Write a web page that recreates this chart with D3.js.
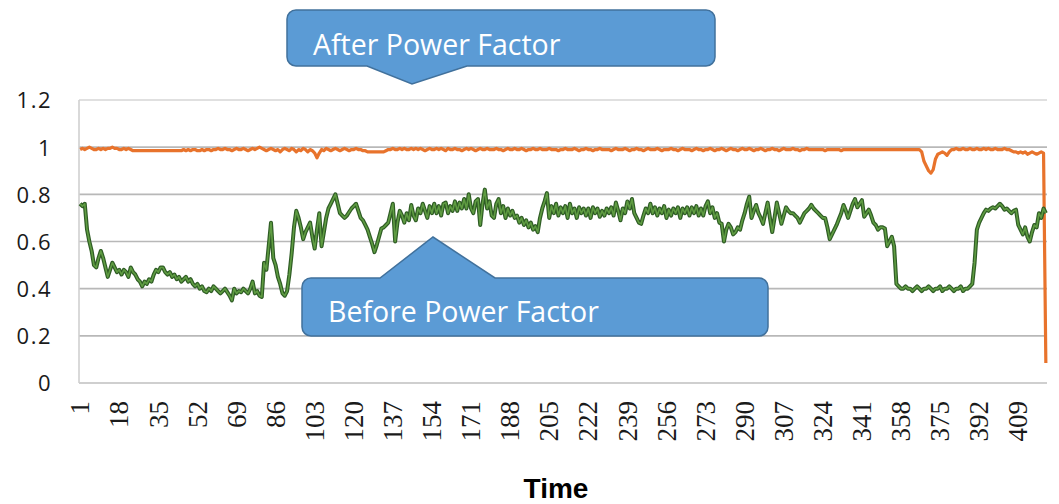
<!DOCTYPE html>
<html>
<head>
<meta charset="utf-8">
<script src="https://cdn.jsdelivr.net/npm/d3@7/dist/d3.min.js"></script>
<style>
  html, body { margin: 0; padding: 0; background: #fff; }
  svg { display: block; }
</style>
</head>
<body>
<svg id="chart" width="1059" height="504"></svg>
<script>
// ---------- DATA ----------
const categories = d3.range(1, 422); // time steps 1..421
const xTickLabels = [1, 18, 35, 52, 69, 86, 103, 120, 137, 154, 171, 188, 205, 222, 239, 256, 273, 290, 307, 324, 341, 358, 375, 392, 409];
const yTickValues = [0, 0.2, 0.4, 0.6, 0.8, 1, 1.2];
const yTickLabels = ["0", "0.2", "0.4", "0.6", "0.8", "1", "1.2"];

const afterPF = [
0.99,0.995,0.99,0.995,1.0,0.995,0.99,0.99,0.995,0.99,
0.995,0.99,0.995,0.995,1.0,0.995,0.995,0.99,0.99,0.995,
0.99,0.995,0.99,0.985,0.985,0.985,0.985,0.985,0.985,0.985,
0.985,0.985,0.985,0.985,0.985,0.985,0.985,0.985,0.985,0.985,
0.985,0.985,0.985,0.985,0.985,0.99,0.985,0.99,0.985,0.99,
0.99,0.985,0.985,0.99,0.985,0.99,0.99,0.985,0.99,0.99,
0.995,0.99,0.99,0.995,0.99,0.99,0.985,0.99,0.995,0.99,
0.99,0.995,0.99,0.985,0.99,0.995,0.99,0.995,1.0,0.995,
0.99,0.985,0.99,0.995,0.99,0.985,0.99,0.98,0.99,0.995,
0.99,0.985,0.995,0.99,0.98,0.99,0.985,0.995,0.99,0.98,
0.99,0.985,0.975,0.955,0.975,0.99,0.985,0.995,0.99,0.985,
0.99,0.995,0.99,0.985,0.99,0.995,0.99,0.985,0.99,0.99,
0.995,0.99,0.99,0.985,0.985,0.98,0.98,0.98,0.98,0.98,
0.98,0.98,0.98,0.985,0.99,0.99,0.995,0.99,0.99,0.995,
0.99,0.995,0.99,0.99,0.995,0.99,0.995,0.99,0.995,0.99,
0.985,0.99,0.995,0.99,0.99,0.995,0.99,0.995,0.99,0.985,
0.995,0.99,0.99,0.995,0.99,0.99,0.985,0.99,0.995,0.99,
0.995,0.99,0.985,0.99,0.995,0.99,0.99,0.995,0.99,0.99,
0.99,0.995,0.99,0.99,0.985,0.99,0.995,0.99,0.99,0.995,
0.99,0.99,0.995,0.99,0.985,0.99,0.99,0.995,0.99,0.99,
0.995,0.99,0.99,0.99,0.995,0.99,0.99,0.99,0.985,0.99,
0.99,0.995,0.99,0.99,0.99,0.995,0.99,0.985,0.99,0.99,
0.995,0.99,0.99,0.985,0.99,0.99,0.995,0.99,0.99,0.99,
0.99,0.985,0.99,0.995,0.99,0.99,0.99,0.995,0.99,0.985,
0.99,0.99,0.995,0.99,0.99,0.985,0.99,0.995,0.99,0.99,
0.99,0.995,0.99,0.985,0.99,0.99,0.99,0.995,0.99,0.99,
0.985,0.99,0.995,0.99,0.99,0.99,0.985,0.99,0.995,0.99,
0.99,0.985,0.99,0.99,0.995,0.99,0.985,0.99,0.99,0.995,
0.99,0.985,0.99,0.995,0.99,0.99,0.985,0.99,0.995,0.99,
0.99,0.995,0.99,0.985,0.99,0.99,0.995,0.99,0.985,0.99,
0.99,0.995,0.99,0.99,0.985,0.99,0.995,0.99,0.99,0.99,
0.995,0.99,0.99,0.985,0.99,0.99,0.995,0.99,0.99,0.99,
0.99,0.99,0.99,0.99,0.985,0.99,0.99,0.99,0.99,0.99,
0.99,0.985,0.99,0.99,0.99,0.99,0.99,0.99,0.99,0.99,
0.99,0.99,0.99,0.99,0.99,0.99,0.99,0.99,0.99,0.99,
0.99,0.99,0.99,0.99,0.99,0.99,0.99,0.99,0.99,0.99,
0.99,0.99,0.99,0.99,0.99,0.99,0.98,0.94,0.92,0.90,
0.89,0.905,0.95,0.97,0.975,0.98,0.975,0.965,0.98,0.99,
0.99,0.995,0.99,0.99,0.995,0.99,0.99,0.995,0.99,0.99,
0.995,0.99,0.99,0.995,0.99,0.995,0.99,0.99,0.995,0.99,
0.99,0.99,0.995,0.99,0.99,0.985,0.98,0.98,0.975,0.98,
0.975,0.98,0.97,0.975,0.98,0.975,0.97,0.975,0.98,0.975,0.085
];

const beforePF = [
0.76,0.75,0.76,0.65,0.60,0.56,0.50,0.49,0.53,0.56,
0.53,0.49,0.45,0.48,0.51,0.49,0.47,0.48,0.46,0.48,
0.47,0.45,0.49,0.47,0.46,0.44,0.43,0.41,0.43,0.42,
0.44,0.43,0.46,0.48,0.47,0.49,0.49,0.47,0.46,0.47,
0.45,0.46,0.44,0.45,0.43,0.44,0.45,0.43,0.44,0.42,
0.41,0.42,0.40,0.41,0.39,0.385,0.40,0.39,0.41,0.40,
0.39,0.38,0.39,0.40,0.385,0.37,0.35,0.40,0.38,0.39,
0.385,0.40,0.39,0.38,0.40,0.43,0.38,0.39,0.37,0.365,
0.51,0.48,0.58,0.68,0.53,0.50,0.45,0.42,0.38,0.37,
0.39,0.46,0.55,0.66,0.73,0.70,0.66,0.61,0.64,0.66,
0.68,0.62,0.57,0.65,0.72,0.58,0.64,0.70,0.74,0.76,
0.78,0.80,0.76,0.72,0.71,0.70,0.71,0.725,0.74,0.75,
0.76,0.73,0.70,0.69,0.67,0.65,0.62,0.59,0.555,0.585,
0.62,0.655,0.66,0.67,0.68,0.72,0.76,0.60,0.68,0.73,
0.71,0.68,0.72,0.69,0.755,0.71,0.69,0.74,0.72,0.76,
0.73,0.70,0.75,0.72,0.76,0.72,0.75,0.71,0.76,0.765,
0.72,0.75,0.73,0.77,0.73,0.765,0.74,0.78,0.74,0.80,
0.74,0.72,0.77,0.78,0.67,0.76,0.82,0.74,0.77,0.71,
0.70,0.76,0.78,0.72,0.75,0.70,0.74,0.71,0.73,0.70,
0.71,0.68,0.70,0.67,0.69,0.66,0.68,0.65,0.665,0.64,
0.70,0.74,0.77,0.805,0.70,0.75,0.72,0.76,0.71,0.745,
0.72,0.75,0.70,0.76,0.72,0.74,0.70,0.745,0.72,0.74,
0.71,0.74,0.70,0.745,0.72,0.74,0.705,0.73,0.71,0.74,
0.72,0.745,0.71,0.765,0.73,0.69,0.74,0.72,0.77,0.74,
0.78,0.72,0.70,0.68,0.675,0.71,0.74,0.72,0.76,0.72,
0.745,0.71,0.74,0.72,0.75,0.70,0.735,0.71,0.74,0.72,
0.745,0.70,0.74,0.72,0.745,0.71,0.745,0.72,0.75,0.71,
0.74,0.71,0.75,0.77,0.72,0.745,0.70,0.72,0.68,0.675,
0.60,0.65,0.675,0.66,0.63,0.64,0.66,0.65,0.69,0.72,
0.76,0.79,0.70,0.73,0.755,0.72,0.70,0.675,0.72,0.765,
0.70,0.64,0.70,0.765,0.72,0.675,0.71,0.745,0.73,0.72,
0.72,0.71,0.70,0.68,0.70,0.72,0.73,0.74,0.755,0.74,
0.73,0.72,0.71,0.70,0.70,0.66,0.61,0.63,0.65,0.67,
0.695,0.72,0.755,0.73,0.70,0.73,0.76,0.78,0.745,0.76,
0.775,0.705,0.72,0.735,0.71,0.68,0.67,0.65,0.66,0.66,
0.655,0.58,0.60,0.62,0.58,0.42,0.41,0.40,0.40,0.41,
0.40,0.40,0.39,0.40,0.41,0.40,0.39,0.40,0.40,0.41,
0.40,0.39,0.40,0.40,0.41,0.39,0.40,0.40,0.41,0.40,
0.39,0.40,0.40,0.41,0.39,0.40,0.40,0.41,0.42,0.51,
0.65,0.68,0.70,0.72,0.735,0.73,0.74,0.745,0.74,0.75,
0.76,0.75,0.735,0.74,0.73,0.72,0.73,0.735,0.67,0.65,
0.63,0.66,0.62,0.60,0.64,0.67,0.66,0.72,0.70,0.74,0.72
];

const calloutAfterText = "After Power Factor";
const calloutBeforeText = "Before Power Factor";
const xAxisTitle = "Time";

// ---------- LAYOUT ----------
const svg = d3.select("#chart");
const plot = { left: 79, right: 1047, top: 100, bottom: 383 };

const x = d3.scaleBand().domain(categories).range([plot.left, plot.right]).padding(0);
const y = d3.scaleLinear().domain([0, 1.2]).range([plot.bottom, plot.top]);
const cx = d => x(d) + x.bandwidth() / 2;

// gridlines
svg.append("g").selectAll("line")
  .data(yTickValues.filter(v => v > 0))
  .join("line")
  .attr("x1", plot.left).attr("x2", plot.right)
  .attr("y1", d => y(d)).attr("y2", d => y(d))
  .attr("stroke", d => d === 1.2 ? "#d6d6d6" : "#b8b8b8")
  .attr("stroke-width", 1.6);

// left border & bottom axis line
svg.append("line")
  .attr("x1", plot.left).attr("x2", plot.left)
  .attr("y1", plot.top).attr("y2", plot.bottom)
  .attr("stroke", "#d0d0d0").attr("stroke-width", 1.6);
svg.append("line")
  .attr("x1", plot.left).attr("x2", plot.right)
  .attr("y1", plot.bottom).attr("y2", plot.bottom)
  .attr("stroke", "#cfcfcf").attr("stroke-width", 1.8);

// Y axis
const yAxis = d3.axisLeft(y)
  .tickValues(yTickValues)
  .tickFormat((d, i) => yTickLabels[i])
  .tickSize(0).tickPadding(0);
const gy = svg.append("g").attr("transform", `translate(52,0)`).call(yAxis);
gy.select(".domain").remove();
gy.selectAll("text")
  .attr("font-family", "'Open Sans', sans-serif")
  .attr("font-size", 22)
  .attr("letter-spacing", 1.5)
  .attr("fill", "#1a1a1a")
  .attr("dy", "0.36em");

// X axis
const xAxis = d3.axisBottom(x)
  .tickValues(xTickLabels)
  .tickFormat(d => String(d))
  .tickSize(0).tickPadding(0);
const gx = svg.append("g").attr("transform", `translate(0,${plot.bottom})`).call(xAxis);
gx.select(".domain").remove();
gx.selectAll("text")
  .attr("font-family", "'Liberation Serif', 'DejaVu Serif', serif")
  .attr("font-size", 27)
  .attr("fill", "#1a1a1a")
  .attr("text-anchor", "end")
  .attr("transform", "rotate(-90)")
  .attr("x", -18)
  .attr("y", 0)
  .attr("dy", "0.34em");

// lines
const line = d3.line()
  .x((d, i) => cx(categories[i]))
  .y(d => y(d))
  .curve(d3.curveLinear);

svg.append("path").datum(afterPF)
  .attr("d", line).attr("fill", "none")
  .attr("stroke", "#e8732c").attr("stroke-width", 3.2)
  .attr("stroke-linejoin", "round");

svg.append("path").datum(beforePF)
  .attr("d", line).attr("fill", "none")
  .attr("stroke", "#2f5d25").attr("stroke-width", 4)
  .attr("stroke-linejoin", "round");
svg.append("path").datum(beforePF)
  .attr("d", line).attr("fill", "none")
  .attr("stroke", "#5f9c42").attr("stroke-width", 1.6)
  .attr("stroke-linejoin", "round");

// callouts
function roundedCallout(x0, y0, x1, y1, r, ptr) {
  const p = d3.path();
  p.moveTo(x0 + r, y0);
  if (ptr.side === "top") {
    p.lineTo(ptr.a, y0); p.lineTo(ptr.tip[0], ptr.tip[1]); p.lineTo(ptr.b, y0);
  }
  p.lineTo(x1 - r, y0);
  p.arcTo(x1, y0, x1, y0 + r, r);
  p.lineTo(x1, y1 - r);
  p.arcTo(x1, y1, x1 - r, y1, r);
  if (ptr.side === "bottom") {
    p.lineTo(ptr.b, y1); p.lineTo(ptr.tip[0], ptr.tip[1]); p.lineTo(ptr.a, y1);
  }
  p.lineTo(x0 + r, y1);
  p.arcTo(x0, y1, x0, y1 - r, r);
  p.lineTo(x0, y0 + r);
  p.arcTo(x0, y0, x0 + r, y0, r);
  p.closePath();
  return p.toString();
}

svg.append("path")
  .attr("d", roundedCallout(287, 10, 715, 66, 9, { side: "bottom", a: 367, tip: [412, 84], b: 467 }))
  .attr("fill", "#5b9bd5").attr("stroke", "#41719c").attr("stroke-width", 1.5);
svg.append("text")
  .attr("x", 313).attr("y", 55)
  .attr("font-family", "'Open Sans', sans-serif").attr("font-size", 28.5)
  .attr("fill", "#fff").text(calloutAfterText);

svg.append("path")
  .attr("d", roundedCallout(302, 278, 768, 336, 9, { side: "top", a: 380, tip: [433, 237], b: 495 }))
  .attr("fill", "#5b9bd5").attr("stroke", "#41719c").attr("stroke-width", 1.5);
svg.append("text")
  .attr("x", 328).attr("y", 322)
  .attr("font-family", "'Open Sans', sans-serif").attr("font-size", 28.5)
  .attr("fill", "#fff").text(calloutBeforeText);

// axis title
svg.append("text")
  .attr("x", 556).attr("y", 498)
  .attr("text-anchor", "middle")
  .attr("font-family", "'Liberation Sans Narrow', 'Arial Narrow', 'Liberation Sans', sans-serif")
  .attr("font-weight", "bold").attr("font-size", 28)
  .attr("fill", "#000").text(xAxisTitle);
</script>
</body>
</html>
